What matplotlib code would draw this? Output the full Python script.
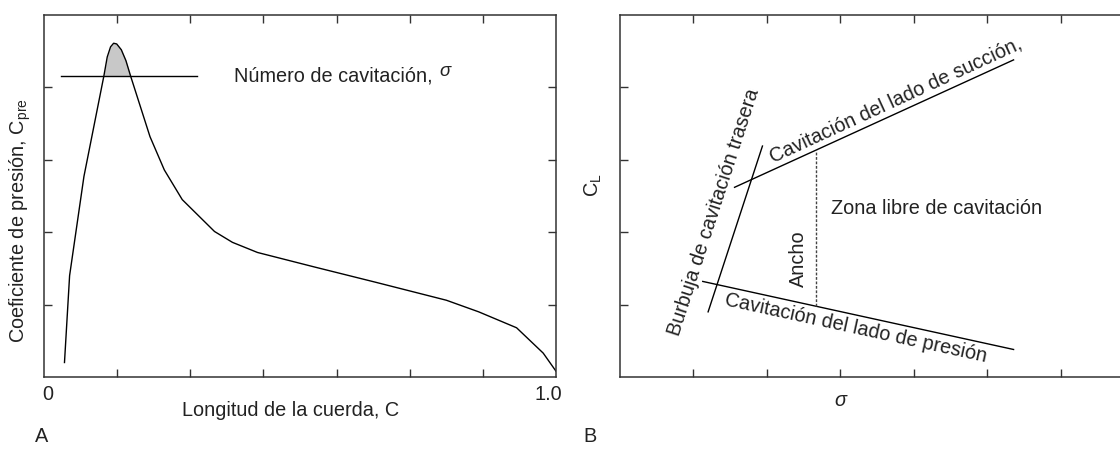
import matplotlib
matplotlib.use("Agg")
import matplotlib.pyplot as plt
import numpy as np

plt.rcParams['font.family'] = ['Liberation Sans', 'DejaVu Sans']
plt.rcParams['mathtext.fontset'] = 'custom'
plt.rcParams['mathtext.rm'] = 'Liberation Sans'
plt.rcParams['mathtext.it'] = 'Liberation Sans:italic'

# ---- Panel A data: pressure coefficient along chord ----
chord = [0.040, 0.050, 0.078, 0.117, 0.1235, 0.130, 0.136, 0.142, 0.151, 0.160,
         0.169, 0.207, 0.235, 0.270, 0.333, 0.368, 0.417, 0.528, 0.647, 0.786,
         0.849, 0.923, 0.975, 1.000]
cpre = [0.20, 1.40, 2.77, 4.16, 4.42, 4.56, 4.61, 4.60, 4.52, 4.37,
        4.16, 3.32, 2.86, 2.45, 2.01, 1.86, 1.72, 1.52, 1.31, 1.06,
        0.90, 0.68, 0.33, 0.08]
sigma_level = 4.16
sigma_span = [0.034, 0.298]

# ---- Panel B data: cavitation bucket lines ----
suction_x = [1.56, 5.36]
suction_y = [2.62, 4.38]
pressure_x = [1.127, 5.36]
pressure_y = [1.32, 0.38]
bubble_x = [1.20, 1.94]
bubble_y = [0.90, 3.19]
width_x = 2.665

W, H = 1120, 449
fig = plt.figure(figsize=(W / 100, H / 100), dpi=100)

def fx(px):
    return px / W

def fy(py):
    return 1 - py / H

TXT = '#222222'
FS = 14.3
SP = '#333333'

def style_axes(ax, xt, yt):
    ax.set_xticks(xt)
    ax.set_yticks(yt)
    ax.tick_params(direction='in', length=6, width=1.0, color=SP,
                   top=True, right=True, labelbottom=False, labelleft=False)
    for s in ax.spines.values():
        s.set_color(SP)
        s.set_linewidth(1.1)

# Panel A
axA = fig.add_axes([fx(44), fy(377), fx(512), 362 / H])
axA.set_xlim(0, 1)
axA.set_ylim(0, 5)
style_axes(axA, [k / 7 for k in range(1, 7)], [1, 2, 3, 4])
x = np.array(chord)
y = np.array(cpre)
axA.plot(x, y, color='black', lw=1.0)
axA.fill_between(x, y, sigma_level, where=(y >= sigma_level - 1e-9),
                 interpolate=True, color='#c8c8c8', lw=0)
axA.plot(sigma_span, [sigma_level, sigma_level], color='black', lw=1.0)
axA.text(0.371, sigma_level, 'Número de cavitación,', fontsize=FS, color=TXT,
         ha='left', va='center')
fig.text(fx(445), fy(71), 'σ', fontsize=FS - 1, color=TXT, style='italic',
         ha='center', va='center')

fig.text(fx(48), fy(395), '0', fontsize=FS, color=TXT, ha='center', va='center')
fig.text(fx(548), fy(395), '1.0', fontsize=FS, color=TXT, ha='center', va='center')
fig.text(fx(291), fy(410), 'Longitud de la cuerda, C', fontsize=FS, color=TXT,
         ha='center', va='center')
fig.text(fx(20), fy(221), r'Coeficiente de presión, C$_{\mathrm{pre}}$', fontsize=FS,
         color=TXT, ha='center', va='center', rotation=90)
fig.text(fx(42), fy(437), 'A', fontsize=FS, color=TXT, ha='center', va='center')

# Panel B
axB = fig.add_axes([fx(620), fy(377), fx(514), 362 / H])
axB.set_xlim(0, 7)
axB.set_ylim(0, 5)
style_axes(axB, [1, 2, 3, 4, 5, 6], [1, 2, 3, 4])
axB.plot(suction_x, suction_y, color='black', lw=1.0)
axB.plot(pressure_x, pressure_y, color='black', lw=1.0)
axB.plot(bubble_x, bubble_y, color='black', lw=1.0)

def line_at(xs, ys, xv):
    return ys[0] + (ys[1] - ys[0]) * (xv - xs[0]) / (xs[1] - xs[0])

axB.plot([width_x, width_x], [line_at(pressure_x, pressure_y, width_x),
                              line_at(suction_x, suction_y, width_x)],
         color='#444444', lw=1.0, ls=(0, (2, 1.2)))

axB.text(3.75, 3.83, 'Cavitación del lado de succión,', fontsize=FS, color=TXT,
         rotation=24.7, rotation_mode='anchor', ha='center', va='center')
axB.text(3.21, 0.68, 'Cavitación del lado de presión', fontsize=FS, color=TXT,
         rotation=-12.3, rotation_mode='anchor', ha='center', va='center')
axB.text(1.28, 2.28, 'Burbuja de cavitación trasera', fontsize=FS, color=TXT,
         rotation=72, rotation_mode='anchor', ha='center', va='center')
axB.text(2.87, 2.33, 'Zona libre de cavitación', fontsize=FS, color=TXT,
         ha='left', va='center')
axB.text(2.43, 1.64, 'Ancho', fontsize=FS, color=TXT, rotation=90,
         ha='center', va='center')

fig.text(fx(593), fy(185), r'C$_{\mathrm{L}}$', fontsize=FS, color=TXT,
         rotation=90, ha='center', va='center')
fig.text(fx(840), fy(400), 'σ', fontsize=FS, color=TXT, style='italic',
         ha='center', va='center')
fig.text(fx(590), fy(437), 'B', fontsize=FS, color=TXT, ha='center', va='center')

fig.savefig('out.png', dpi=100)
